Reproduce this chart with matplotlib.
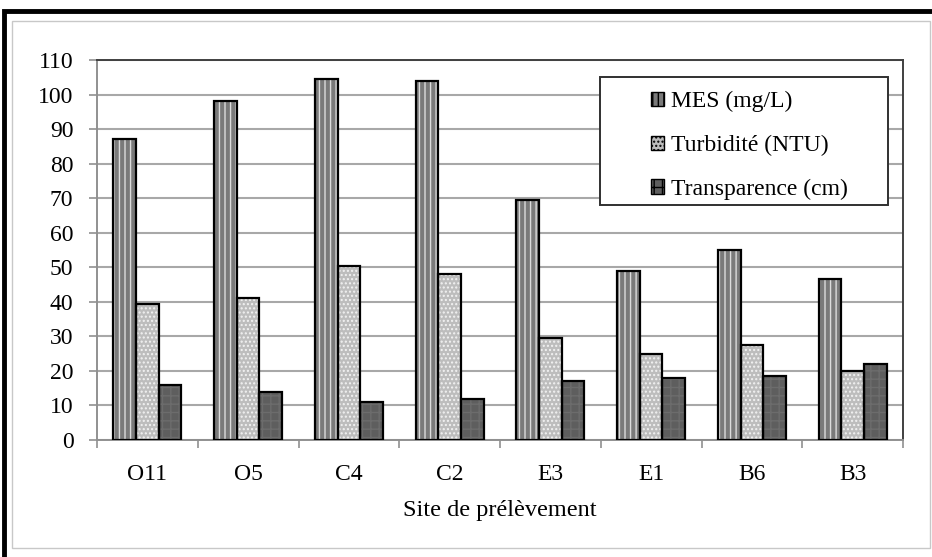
import numpy as np
import matplotlib.pyplot as plt
from matplotlib.patches import Patch, Rectangle

sites = ["O11", "O5", "C4", "C2", "E3", "E1", "B6", "B3"]
mes = [87, 98, 104.5, 104, 69.5, 49, 55, 46.5]
turbidite = [39.5, 41, 50.5, 48, 29.5, 25, 27.5, 20]
transparence = [16, 14, 11, 12, 17, 18, 18.5, 22]
labels = ["MES (mg/L)", "Turbidité (NTU)", "Transparence (cm)"]

plt.rcParams['font.family'] = ['Liberation Serif', 'DejaVu Serif']
plt.rcParams['hatch.linewidth'] = 1.0

W, H = 932, 557
fig = plt.figure(figsize=(W / 100, H / 100), dpi=100)
ax = fig.add_axes([97 / W, 1 - 440 / H, (903 - 97) / W, (440 - 60) / H])

# frames around the chart (document border + chart area border)
fig.patches.append(Rectangle((4 / W, -0.05), 2, 1 - 11 / H + 0.05, transform=fig.transFigure,
                             fill=False, edgecolor='black', linewidth=3.5, clip_on=False))
fig.patches.append(Rectangle((12 / W, 1 - 548 / H), (930 - 12) / W, (548 - 21) / H,
                             transform=fig.transFigure, fill=False, edgecolor='#c8c8c8', linewidth=1))

x = np.arange(len(sites))
w = 0.225
styles = [
    dict(face='#7a7a7a', hatch='|||', hcol='#dcdcdc'),
    dict(face='#bdbdbd', hatch='....', hcol='#f2f2f2'),
    dict(face='#5e5e5e', hatch='++', hcol='#6c6c6c'),
]
series = [mes, turbidite, transparence]
for i, (vals, st) in enumerate(zip(series, styles)):
    pos = x + (i - 1) * w
    ax.bar(pos, vals, w, color=st['face'], hatch=st['hatch'], edgecolor=st['hcol'], linewidth=0, zorder=3)
    ax.bar(pos, vals, w, fill=False, edgecolor='black', linewidth=1.6, zorder=4)

ax.set_ylim(0, 110)
ax.set_yticks(np.arange(0, 111, 10))
ax.set_xlim(-0.5, len(sites) - 0.5)
ax.set_xticks(x)
ax.set_xticklabels(sites)
ax.set_xticks(np.arange(-0.5, len(sites), 1), minor=True)
ax.tick_params(axis='x', which='major', length=0, labelsize=17, pad=17)
ax.tick_params(axis='x', which='minor', length=6, color='#909090', width=1.2, direction='out')
ax.tick_params(axis='y', labelsize=17, length=6, color='#909090', width=1.2, pad=11)
ax.grid(axis='y', color='#a8a8a8', linewidth=1.5, zorder=0)
ax.set_axisbelow(True)

for s in ['left', 'bottom']:
    ax.spines[s].set_color('#909090')
    ax.spines[s].set_linewidth(1.4)
for s in ['top', 'right']:
    ax.spines[s].set_color('#404040')
    ax.spines[s].set_linewidth(1.4)

ax.set_xlabel("Site de prélèvement", fontsize=17.5, labelpad=11)

# legend box drawn separately so the entries can sit off-center like the original
fig.patches.append(Rectangle((600 / W, 1 - 205 / H), (888 - 600) / W, (205 - 77) / H,
                             transform=fig.transFigure, facecolor='white', edgecolor='#303030',
                             linewidth=1.4, zorder=5))
handles = [Patch(facecolor=st['face'], hatch=st['hatch'], edgecolor='black', linewidth=1) for st in styles]
leg = fig.legend(handles, labels, loc='upper left', bbox_to_anchor=(651 / W, 1 - 91 / H),
                 fontsize=17, frameon=False, handlelength=0.55, handleheight=0.55,
                 handletextpad=0.3, labelspacing=0.96, borderpad=0, borderaxespad=0)
leg.set_zorder(6)

fig.savefig("out.png", dpi=100)
